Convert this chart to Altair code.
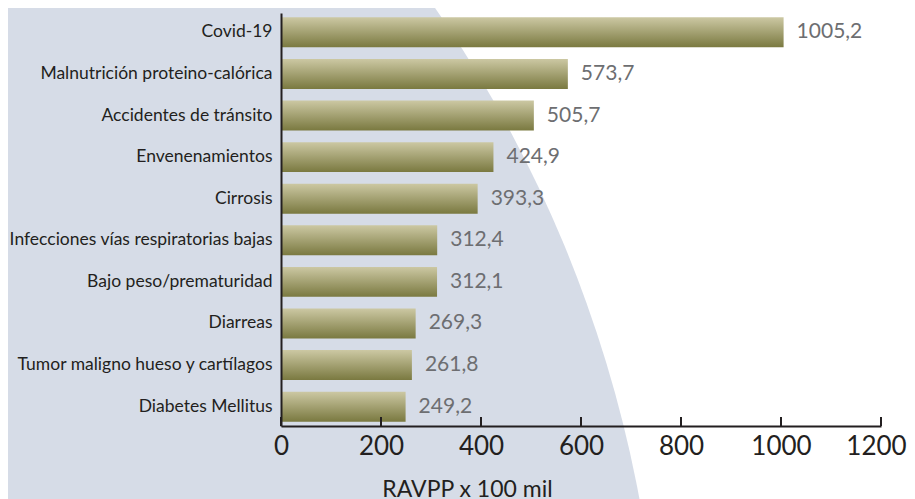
import altair as alt
import pandas as pd
import math

categories = [
    "Covid-19",
    "Malnutrición proteino-calórica",
    "Accidentes de tránsito",
    "Envenenamientos",
    "Cirrosis",
    "Infecciones vías respiratorias bajas",
    "Bajo peso/prematuridad",
    "Diarreas",
    "Tumor maligno hueso y cartílagos",
    "Diabetes Mellitus",
]
values = [1005.2, 573.7, 505.7, 424.9, 393.3, 312.4, 312.1, 269.3, 261.8, 249.2]
tick_values = [0, 200, 400, 600, 800, 1000, 1200]
axis_title = "RAVPP x 100 mil"

df = pd.DataFrame({
    "cat": categories,
    "value": values,
    "label": [f"{v:.1f}".replace(".", ",") for v in values],
})
ticks_df = pd.DataFrame({"value": tick_values})
bg_df = pd.DataFrame({"a": [0]})

W, H = 600, 413
FONT = "Lato"
DARK = "#231f20"

x_axis = alt.Axis(
    values=tick_values, format="d", grid=False, ticks=False, domainColor=DARK, domainWidth=2,
    labelFont=FONT, labelFontSize=26, labelColor=DARK, labelPadding=7,
    labelFlush=False, labelOverlap=False, zindex=1,
    labelOffset={"condition": {"test": "datum.value == 1200", "value": -5}, "value": 0},
    title=axis_title, titleFont=FONT, titleFontSize=23, titleFontWeight="normal",
    titleColor=DARK, titleX=186, titleY=70, titleBaseline="alphabetic", titleAlign="center",
)
x_enc = alt.X("value:Q", scale=alt.Scale(domain=[0, 1200], nice=False), axis=x_axis)
y_enc = alt.Y(
    "cat:N", sort=categories,
    scale=alt.Scale(paddingInner=0.28, paddingOuter=0.105),
    axis=alt.Axis(
        title=None, ticks=False, domainColor=DARK, domainWidth=2, zindex=1,
        labelFont=FONT, labelFontSize=17.5, labelColor=DARK, labelPadding=9, labelLimit=400,
    ),
)

bg = alt.Chart(bg_df).mark_arc(
    radius=1273, theta=0, theta2=2 * math.pi, color="#d6dce7"
).encode(x=alt.value(-893), y=alt.value(719))

grad = alt.Gradient(
    gradient="linear",
    stops=[alt.GradientStop(color="#ccc8a3", offset=0), alt.GradientStop(color="#7a7940", offset=1)],
    x1=0, x2=0, y1=0, y2=1,
)
bars = alt.Chart(df).mark_bar(color=grad, cornerRadius=0).encode(x=x_enc, y=y_enc)

labels = alt.Chart(df).mark_text(
    align="left", baseline="middle", dx=13, font=FONT, fontSize=21, color="#6d6e71"
).encode(x=x_enc, y=y_enc, text="label:N")

ticks = alt.Chart(ticks_df).mark_rule(color=DARK, strokeWidth=2).encode(
    x=x_enc, y=alt.value(H - 9), y2=alt.value(H)
)

chart = alt.layer(bg, bars, labels, ticks).properties(
    width=W, height=H,
    autosize=alt.AutoSizeParams(type="none"),
    padding={"left": 273, "top": 5, "right": 26, "bottom": 90},
    background="white",
).configure_view(stroke=None)

chart.save("out.html", embed_options={"renderer": "svg", "actions": False})
